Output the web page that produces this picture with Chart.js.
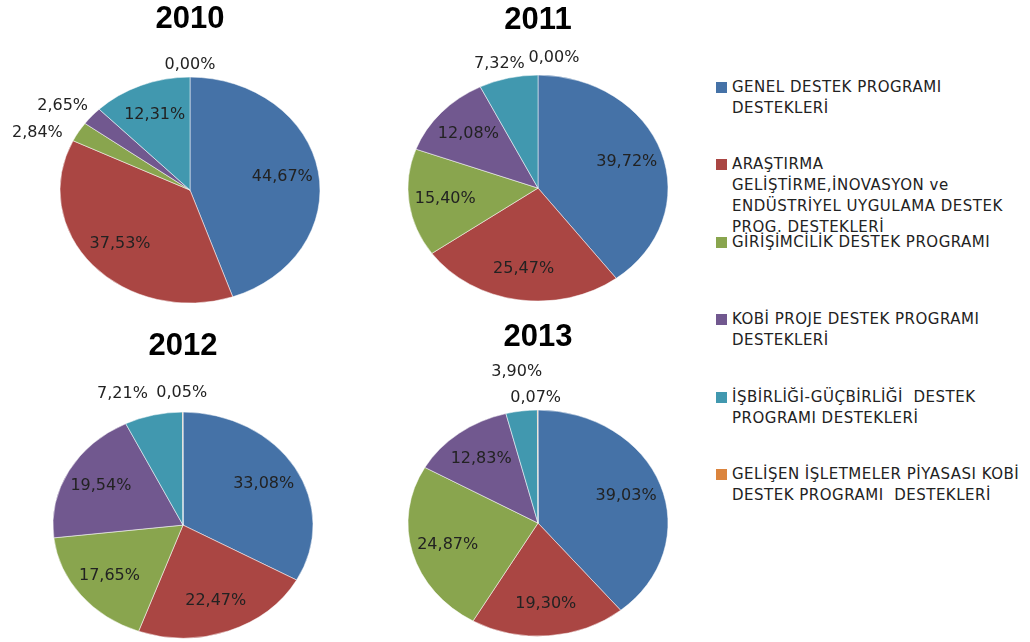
<!DOCTYPE html>
<html>
<head>
<meta charset="utf-8">
<script src="https://cdn.jsdelivr.net/npm/chart.js@4.4.1/dist/chart.umd.min.js"></script>
<style>
  html, body { margin: 0; padding: 0; background: #fff; width: 1030px; height: 642px; overflow: hidden; }
  .pie { position: absolute; }
  .item { position: absolute; left: 716px; font: 15px "DejaVu Sans"; letter-spacing: 0.5px; color: #222; line-height: 21px; white-space: pre; }
  .item .box { position: absolute; left: 0; top: 5px; width: 11px; height: 11px; }
  .item .txt { position: absolute; left: 16px; top: 0; }
</style>
</head>
<body>
<div id="legend"></div>
<script>
// data
const years = ["2010", "2011", "2012", "2013"];
const categories = [
  ["GENEL DESTEK PROGRAMI", "DESTEKLERİ"],
  ["ARAŞTIRMA", "GELİŞTİRME,İNOVASYON ve", "ENDÜSTRİYEL UYGULAMA DESTEK", "PROG. DESTEKLERİ"],
  ["GİRİŞİMCİLİK DESTEK PROGRAMI"],
  ["KOBİ PROJE DESTEK PROGRAMI", "DESTEKLERİ"],
  ["İŞBİRLİĞİ-GÜÇBİRLİĞİ  DESTEK", "PROGRAMI DESTEKLERİ"],
  ["GELİŞEN İŞLETMELER PİYASASI KOBİ", "DESTEK PROGRAMI  DESTEKLERİ"]
];
const share2010 = [44.67, 37.53, 2.84, 2.65, 12.31, 0.00];
const share2011 = [39.72, 25.47, 15.40, 12.08, 7.32, 0.00];
const share2012 = [33.08, 22.47, 17.65, 19.54, 7.21, 0.05];
const share2013 = [39.03, 19.30, 24.87, 12.83, 3.90, 0.07];
const shares = [share2010, share2011, share2012, share2013];

const colors = ["#4572A7", "#AA4643", "#89A54E", "#71588F", "#4198AF", "#DB843D"];

// where each pie sits on the page: title centre y, pie centre x/y
const placement = [
  { ty: 19, cx: 190, cy: 190 },
  { ty: 20, cx: 538, cy: 188 },
  { ty: 346, cx: 183, cy: 525 },
  { ty: 337, cx: 538, cy: 523 }
];
const RADIUS = 130;
const SQUASH = 113 / 130; // pies are drawn as flat ellipses
// small shifts for the outside labels so they don't collide
const labelNudge = [
  { 2: [-15, 7], 3: [-6, -2] },
  { 4: [-2, -2], 5: [16, -5] },
  { 4: [-24, -9], 5: [-1, -7] },
  { 4: [-1, -27], 5: [-2, 0] }
];

const fmt = v => v.toFixed(2).replace(".", ",") + "%";

// squash the arcs vertically and write the percentage labels
const ellipsePlugin = {
  id: "ellipse",
  beforeDatasetsDraw(chart, args, opts) {
    const arc = chart.getDatasetMeta(0).data[0];
    const ctx = chart.ctx;
    ctx.save();
    ctx.translate(arc.x, arc.y);
    ctx.scale(1, opts.squash);
    ctx.translate(-arc.x, -arc.y);
  },
  afterDatasetsDraw(chart) {
    chart.ctx.restore();
  },
  afterDraw(chart, args, opts) {
    const ctx = chart.ctx;
    const values = chart.data.datasets[0].data;
    const sq = opts.squash;
    ctx.save();
    ctx.font = "16px 'DejaVu Sans'";
    ctx.fillStyle = "#222";
    ctx.textAlign = "center";
    ctx.textBaseline = "middle";
    chart.getDatasetMeta(0).data.forEach((arc, i) => {
      const v = values[i];
      const text = fmt(v);
      const mid = (arc.startAngle + arc.endAngle) / 2;
      const c = Math.cos(mid), s = Math.sin(mid);
      const w = ctx.measureText(text).width, h = 16;
      let x, y;
      if (v >= 10) {
        x = arc.x + c * arc.outerRadius * 0.72;
        y = arc.y + s * arc.outerRadius * 0.72 * sq;
      } else {
        const r = arc.outerRadius * 1.04;
        x = arc.x + c * r + c * w / 2;
        y = arc.y + s * r * sq + s * h / 2;
      }
      const n = opts.nudge[i];
      if (n) { x += n[0]; y += n[1]; }
      ctx.fillText(text, x, y);
    });
    ctx.restore();
  }
};

years.forEach((year, k) => {
  const p = placement[k];
  const canvas = document.createElement("canvas");
  const top = p.ty - 19;
  const areaTop = top + 38;
  const height = 2 * p.cy - areaTop - top;
  canvas.className = "pie";
  canvas.width = 380;
  canvas.height = height;
  canvas.style.left = (p.cx - 190) + "px";
  canvas.style.top = top + "px";
  canvas.style.width = "380px";
  canvas.style.height = height + "px";
  document.body.appendChild(canvas);

  new Chart(canvas.getContext("2d"), {
    type: "pie",
    data: {
      labels: categories.map(c => c.join(" ")),
      datasets: [{
        data: shares[k],
        backgroundColor: colors,
        borderColor: "rgba(255,255,255,0.55)",
        borderWidth: 1
      }]
    },
    options: {
      responsive: false,
      animation: false,
      radius: RADIUS,
      layout: { padding: 0 },
      plugins: {
        legend: { display: false },
        tooltip: { enabled: false },
        title: {
          display: true,
          text: year,
          color: "#000",
          font: { family: "'Liberation Sans', Arial", size: 31, weight: "bold", lineHeight: 1.2 },
          padding: { top: 1, bottom: 0 }
        },
        ellipse: { squash: SQUASH, nudge: labelNudge[k] }
      }
    },
    plugins: [ellipsePlugin]
  });
});

// legend on the right
const firstLine = [87, 164, 242, 319, 397, 474];
const legend = document.getElementById("legend");
categories.forEach((lines, i) => {
  const item = document.createElement("div");
  item.className = "item";
  item.style.top = (firstLine[i] - 10.5) + "px";
  item.innerHTML = '<div class="box" style="background:' + colors[i] + '"></div>' +
    '<div class="txt">' + lines.join("\n") + '</div>';
  legend.appendChild(item);
});
</script>
</body>
</html>
